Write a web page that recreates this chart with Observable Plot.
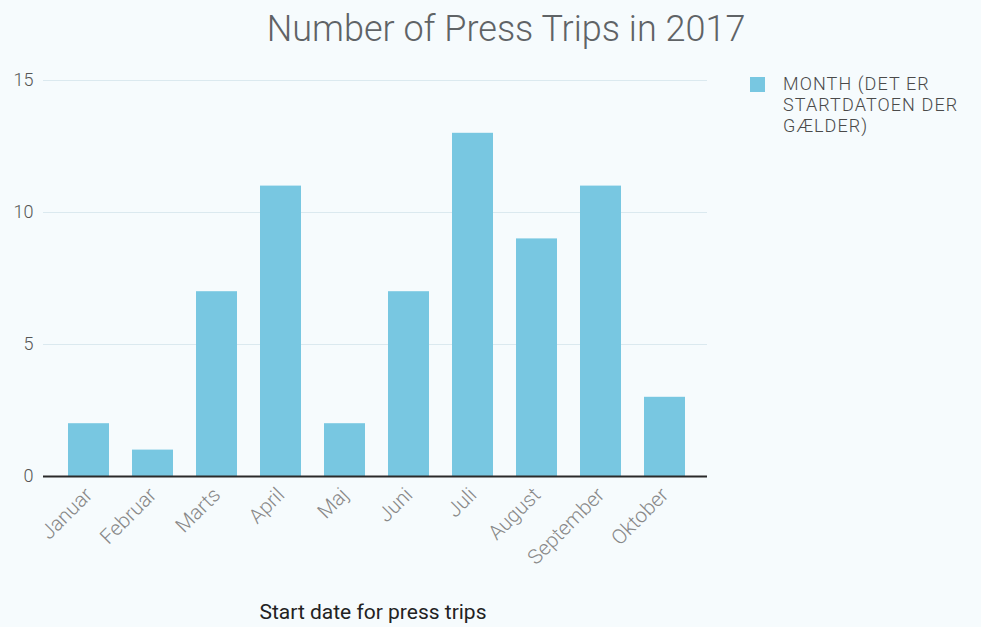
<!DOCTYPE html>
<html>
<head>
<meta charset="utf-8">
<script src="https://cdn.jsdelivr.net/npm/d3@7"></script>
<script src="https://cdn.jsdelivr.net/npm/@observablehq/plot@0.6"></script>
<style>
  html, body { margin: 0; padding: 0; background: #f6fbfd; }
  #wrap { position: relative; width: 981px; height: 627px; overflow: hidden; background: #f6fbfd; font-family: Roboto, sans-serif; }
  #title { position: absolute; left: 0; width: 1012px; top: 8px; text-align: center; font-size: 36px; color: #5f6366; font-weight: 300; }
  #legend { position: absolute; left: 750px; top: 73px; display: flex; }
  #legend .sw { width: 15px; height: 15px; background: #78c7e1; margin-top: 4px; margin-right: 18px; }
  #legend .tx { font-size: 18px; line-height: 21px; color: #4a4a4a; font-weight: 300; letter-spacing: 1.1px; }
  #xlabel { position: absolute; left: 0; width: 746px; top: 600px; text-align: center; font-size: 21px; color: #222; }
  #chart { position: absolute; left: 0; top: 0; }
</style>
</head>
<body>
<div id="wrap">
  <div id="chart"></div>
  <div id="title">Number of Press Trips in 2017</div>
  <div id="legend"><div class="sw"></div><div class="tx">MONTH (DET ER<br>STARTDATOEN DER<br>GÆLDER)</div></div>
  <div id="xlabel">Start date for press trips</div>
</div>
<script>
const months = ["Januar","Februar","Marts","April","Maj","Juni","Juli","August","September","Oktober"];
const trips = [2, 1, 7, 11, 2, 7, 13, 9, 11, 3];
const yTicks = [0, 5, 10, 15];
const seriesName = "MONTH (DET ER STARTDATOEN DER GÆLDER)";

const data = months.map((m, i) => ({month: m, value: trips[i]}));

const chart = Plot.plot({
  width: 981,
  height: 627,
  marginTop: 80,
  marginBottom: 151,
  marginLeft: 43,
  marginRight: 274,
  style: {background: "transparent", fontFamily: "Roboto, sans-serif", fontWeight: 300},
  x: {domain: months, paddingInner: 0.36, paddingOuter: 0.18, insetLeft: 12, insetRight: 9, label: null},
  y: {domain: [0, 15], label: null},
  marks: [
    Plot.ruleY(yTicks.filter(d => d > 0), {stroke: "#dbe9ef", strokeWidth: 1}),
    Plot.barY(data, {x: "month", y: "value", fill: "#78c7e1"}),
    Plot.ruleY([0], {stroke: "#2a2a2a", strokeWidth: 2}),
    Plot.axisY({ticks: yTicks, tickSize: 0, tickPadding: 10, fontSize: 18, fill: "#555", anchor: "left"}),
    Plot.axisX({tickSize: 0, tickPadding: 15, tickRotate: -45, fontSize: 20.5, fill: "#888"})
  ]
});
document.getElementById("chart").appendChild(chart);
</script>
</body>
</html>
